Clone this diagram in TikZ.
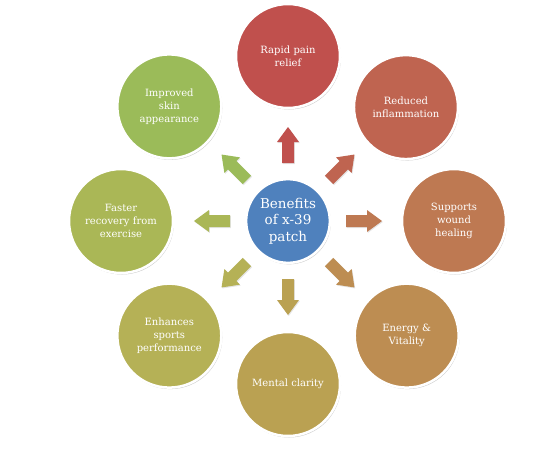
\documentclass[tikz,border=0pt]{standalone}
\usepackage{fontspec}
\setmainfont{DejaVu Serif}
\usetikzlibrary{shadows}
\definecolor{hubblue}{RGB}{79,129,189}
\definecolor{cA}{RGB}{192,80,77}
\definecolor{cB}{RGB}{191,100,80}
\definecolor{cC}{RGB}{190,121,82}
\definecolor{cD}{RGB}{189,141,82}
\definecolor{cE}{RGB}{186,161,82}
\definecolor{cF}{RGB}{181,177,86}
\definecolor{cG}{RGB}{170,183,86}
\definecolor{cH}{RGB}{155,187,89}
\tikzset{
  x=1pt, y=1pt,
  softshadow/.style={drop shadow={shadow xshift=1pt, shadow yshift=-1.5pt, opacity=0.2, fill=black}},
  faintshadow/.style={drop shadow={shadow xshift=0.8pt, shadow yshift=-1pt, opacity=0.1, fill=black}},
  benefit/.style={circle, fill=#1, draw=white, line width=2.5pt, minimum size=104pt,
    inner sep=0pt, text=white, align=center, text width=84pt,
    font=\fontsize{10}{13}\selectfont, softshadow},
  hub/.style={circle, fill=hubblue, draw=white, line width=2.5pt, minimum size=82pt,
    inner sep=0pt, text=white, align=center, text width=70pt,
    font=\fontsize{13.5}{16.5}\selectfont, softshadow},
  blockarrow/.style={fill=#1, draw=none, faintshadow}
}
\begin{document}
\begin{tikzpicture}
\useasboundingbox[fill=white] (-288,-232) rectangle (268,221);
\node[hub] (hub) at (0,0) {Benefits\\of x-39\\patch};
\node[benefit=cA] (n1) at (90:165)   {Rapid pain\\relief};
\node[benefit=cB] (n2) at (44:164)   {Reduced\\inflammation};
\node[benefit=cC] (n3) at (0:166)    {Supports\\wound\\healing};
\node[benefit=cD] (n4) at (-44:165)  {Energy \&\\Vitality};
\node[benefit=cE] (n5) at (-90:163)  {Mental clarity};
\node[benefit=cF] (n6) at (-136:165) {Enhances\\sports\\performance};
\node[benefit=cG] (n7) at (180:167)  {Faster\\recovery from\\exercise};
\node[benefit=cH] (n8) at (136:165)  {Improved\\skin\\appearance};
\foreach \ang/\col in {90/cA,45/cB,0/cC,-45/cD,-90/cE,-135/cF,180/cG,135/cH}{
  \begin{scope}[shift={(hub.center)}, rotate=\ang]
    \path[blockarrow=\col] (58,-6) -- (79,-6) -- (79,-11) -- (94,0) -- (79,11) -- (79,6) -- (58,6) -- cycle;
  \end{scope}
}
\end{tikzpicture}
\end{document}
